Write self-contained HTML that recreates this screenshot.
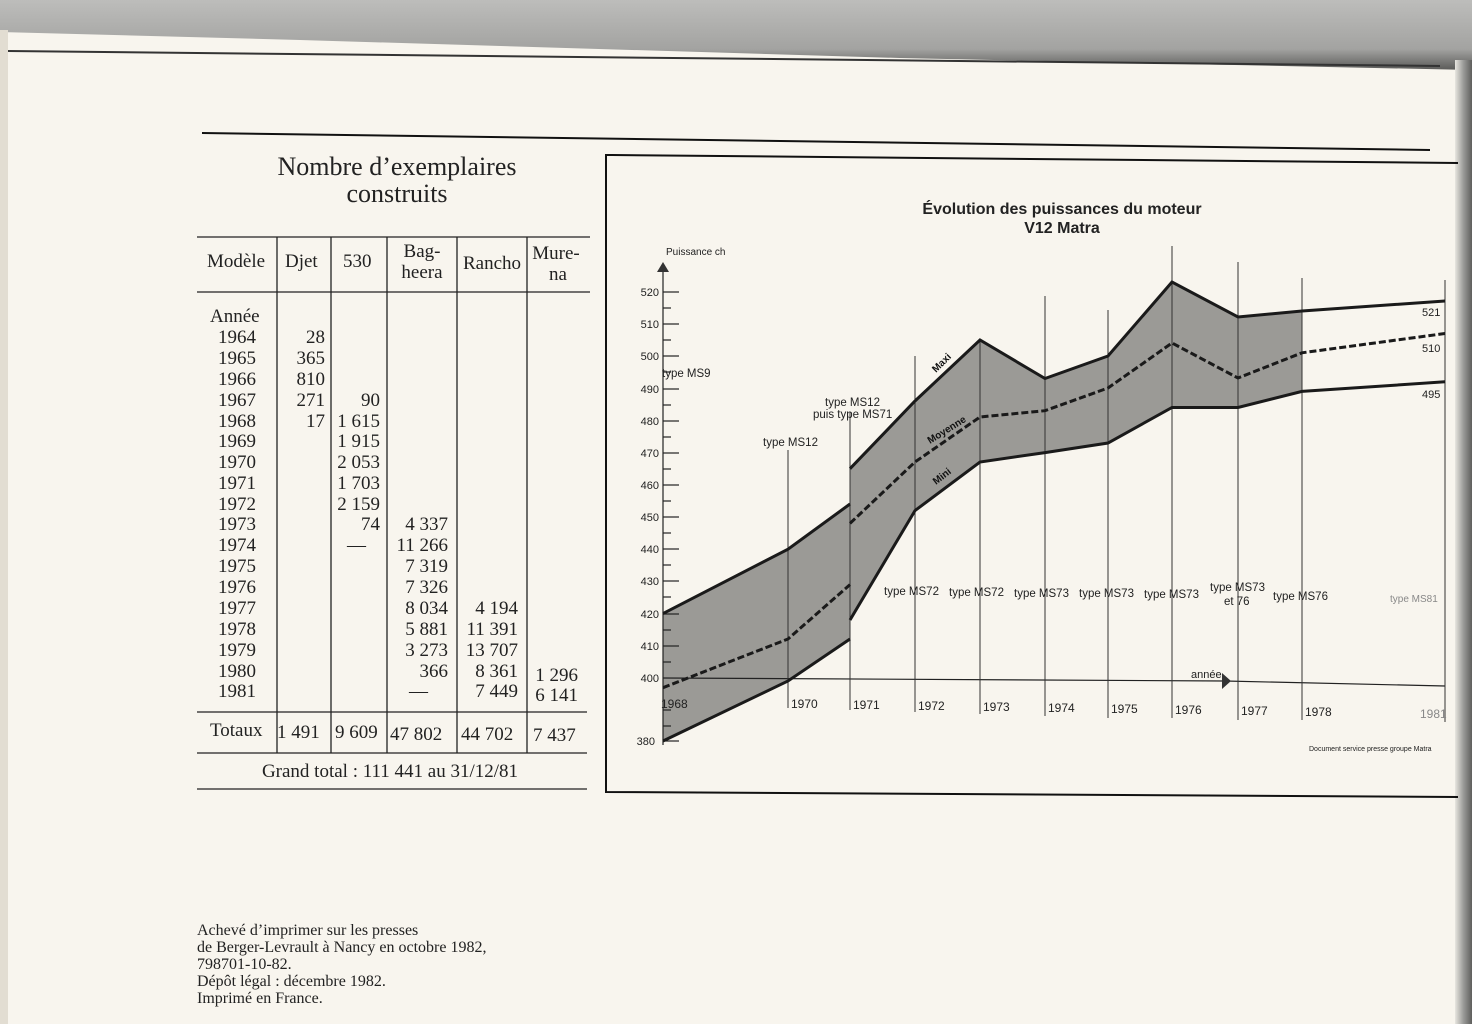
<!DOCTYPE html>
<html><head><meta charset="utf-8"><style>
html,body{margin:0;padding:0;background:#f8f5ee;}
svg{display:block}
.s{font-family:"Liberation Serif",serif;fill:#222}
.a{font-family:"Liberation Sans",sans-serif;fill:#222}
</style></head><body>
<svg width="1472" height="1024" viewBox="0 0 1472 1024" xmlns="http://www.w3.org/2000/svg">
<defs>
<linearGradient id="tg" x1="0" y1="0" x2="0" y2="1"><stop offset="0" stop-color="#bdbdbb"/><stop offset="0.7" stop-color="#a3a3a1"/><stop offset="1" stop-color="#5a5a58"/></linearGradient>
<linearGradient id="rg" x1="0" y1="0" x2="1" y2="0"><stop offset="0" stop-color="#e8e6e0"/><stop offset="0.5" stop-color="#9a9a98"/><stop offset="1" stop-color="#5e5e5c"/></linearGradient>
</defs>
<rect width="1472" height="1024" fill="#f8f5ee"/>
<polygon points="0,0 1472,0 1472,70 900,58 300,40 0,32" fill="url(#tg)"/>
<line x1="8" y1="51" x2="1440" y2="66" stroke="#333" stroke-width="2"/>
<rect x="1455" y="60" width="17" height="964" fill="url(#rg)"/>
<rect x="0" y="30" width="8" height="994" fill="#e2ddd2"/>
<line x1="202" y1="133" x2="1430" y2="150" stroke="#111" stroke-width="2"/>

<text class="s" x="397" y="175" font-size="26" text-anchor="middle">Nombre d’exemplaires</text>
<text class="s" x="397" y="202" font-size="26" text-anchor="middle">construits</text>
<g stroke="#222" stroke-width="1.3">
<line x1="197" y1="237" x2="590" y2="237"/>
<line x1="197" y1="292" x2="590" y2="292"/>
<line x1="197" y1="712" x2="587" y2="712"/>
<line x1="197" y1="753" x2="587" y2="753"/>
<line x1="197" y1="789" x2="587" y2="789"/>
<line x1="277" y1="237" x2="277" y2="753"/>
<line x1="331" y1="237" x2="331" y2="753"/>
<line x1="387" y1="237" x2="387" y2="753"/>
<line x1="457" y1="237" x2="457" y2="753"/>
<line x1="527" y1="237" x2="527" y2="753"/>
</g>
<g class="s" font-size="19">
<text x="207" y="267">Modèle</text><text x="285" y="267">Djet</text><text x="343" y="267">530</text>
<text x="422" y="257" text-anchor="middle">Bag-</text><text x="422" y="278" text-anchor="middle">heera</text>
<text x="492" y="269" text-anchor="middle">Rancho</text>
<text x="556" y="259" text-anchor="middle">Mure-</text><text x="558" y="280" text-anchor="middle">na</text>
<text x="210" y="322">Année</text>
</g>
<g class="s" font-size="19">
<g text-anchor="start">
<text x="218" y="343">1964</text><text x="218" y="364">1965</text><text x="218" y="385">1966</text><text x="218" y="406">1967</text><text x="218" y="427">1968</text><text x="218" y="447">1969</text><text x="218" y="468">1970</text><text x="218" y="489">1971</text><text x="218" y="510">1972</text><text x="218" y="530">1973</text><text x="218" y="551">1974</text><text x="218" y="572">1975</text><text x="218" y="593">1976</text><text x="218" y="614">1977</text><text x="218" y="635">1978</text><text x="218" y="656">1979</text><text x="218" y="677">1980</text><text x="218" y="697">1981</text>
</g>
<g text-anchor="end">
<text x="325" y="343">28</text><text x="325" y="364">365</text><text x="325" y="385">810</text><text x="325" y="406">271</text><text x="325" y="427">17</text>
<text x="380" y="406">90</text><text x="380" y="427">1 615</text><text x="380" y="447">1 915</text><text x="380" y="468">2 053</text><text x="380" y="489">1 703</text><text x="380" y="510">2 159</text><text x="380" y="530">74</text><text x="366" y="551">—</text>
<text x="448" y="530">4 337</text><text x="448" y="551">11 266</text><text x="448" y="572">7 319</text><text x="448" y="593">7 326</text><text x="448" y="614">8 034</text><text x="448" y="635">5 881</text><text x="448" y="656">3 273</text><text x="448" y="677">366</text><text x="428" y="697">—</text>
<text x="518" y="614">4 194</text><text x="518" y="635">11 391</text><text x="518" y="656">13 707</text><text x="518" y="677">8 361</text><text x="518" y="697">7 449</text>
<text x="578" y="681">1 296</text><text x="578" y="701">6 141</text>
</g>
<text x="210" y="736">Totaux</text>
<text x="277" y="738">1 491</text><text x="335" y="738">9 609</text><text x="390" y="740">47 802</text><text x="461" y="740">44 702</text><text x="533" y="741">7 437</text>
<text x="390" y="777" text-anchor="middle">Grand total : 111 441 au 31/12/81</text>
</g>
<g class="s" font-size="16">
<text x="197" y="935">Achevé d’imprimer sur les presses</text>
<text x="197" y="952">de Berger-Levrault à Nancy en octobre 1982,</text>
<text x="197" y="969">798701-10-82.</text>
<text x="197" y="986">Dépôt légal : décembre 1982.</text>
<text x="197" y="1003">Imprimé en France.</text>
</g>

<g stroke="#111" stroke-width="2" fill="none">
<polyline points="1458,163 612,155 606,155 606,792 1458,797"/>
</g>
<text class="a" x="1062" y="214" font-size="16" font-weight="bold" text-anchor="middle">Évolution des puissances du moteur</text>
<text class="a" x="1062" y="233" font-size="16" font-weight="bold" text-anchor="middle">V12 Matra</text>
<text class="a" x="666" y="255" font-size="10">Puissance ch</text>

<polygon fill="#9b9a96" points="663,613.6 788,549.2 850,504 850,468.7 915,401 980,340 1045,378.5 1108,356 1172,282 1238,317 1302,311 1302,391.4 1238,407.5 1172,407.5 1108,443 1045,452.6 980,462 915,510.6 850,620 850,639 788,681 663,741"/>

<g stroke="#222" stroke-width="1.2">
<line x1="663" y1="270" x2="663" y2="745"/>
<line x1="663" y1="292" x2="679" y2="292"/><line x1="663" y1="324" x2="679" y2="324"/><line x1="663" y1="356" x2="679" y2="356"/><line x1="663" y1="389" x2="679" y2="389"/><line x1="663" y1="421" x2="679" y2="421"/><line x1="663" y1="453" x2="679" y2="453"/><line x1="663" y1="485" x2="679" y2="485"/><line x1="663" y1="517" x2="679" y2="517"/><line x1="663" y1="549" x2="679" y2="549"/><line x1="663" y1="581" x2="679" y2="581"/><line x1="663" y1="614" x2="679" y2="614"/><line x1="663" y1="646" x2="679" y2="646"/><line x1="663" y1="741" x2="679" y2="741"/>
<line x1="663" y1="308" x2="671" y2="308"/><line x1="663" y1="340" x2="671" y2="340"/><line x1="663" y1="372" x2="671" y2="372"/><line x1="663" y1="405" x2="671" y2="405"/><line x1="663" y1="437" x2="671" y2="437"/><line x1="663" y1="469" x2="671" y2="469"/><line x1="663" y1="501" x2="671" y2="501"/><line x1="663" y1="533" x2="671" y2="533"/><line x1="663" y1="565" x2="671" y2="565"/><line x1="663" y1="597" x2="671" y2="597"/><line x1="663" y1="630" x2="671" y2="630"/><line x1="663" y1="662" x2="671" y2="662"/><line x1="663" y1="710" x2="671" y2="710"/><line x1="663" y1="726" x2="671" y2="726"/>
<line x1="663" y1="678" x2="1225" y2="681"/>
<line x1="1225" y1="681" x2="1445" y2="686"/>
</g>
<polygon points="657,272 669,272 663,262" fill="#333"/>
<polygon points="1222,673 1222,689 1231,681" fill="#333"/>
<g class="a" font-size="11" text-anchor="end">
<text x="659" y="296">520</text><text x="659" y="328">510</text><text x="659" y="360">500</text><text x="659" y="393">490</text><text x="659" y="425">480</text><text x="659" y="457">470</text><text x="659" y="489">460</text><text x="659" y="521">450</text><text x="659" y="553">440</text><text x="659" y="585">430</text><text x="659" y="618">420</text><text x="659" y="650">410</text><text x="659" y="682">400</text><text x="655" y="745">380</text>
</g>
<text class="a" x="1191" y="678" font-size="11">année</text>

<g stroke="#333" stroke-width="1">
<line x1="788" y1="450" x2="788" y2="708"/><line x1="850" y1="412" x2="850" y2="710"/><line x1="915" y1="356" x2="915" y2="712"/><line x1="980" y1="340" x2="980" y2="714"/><line x1="1045" y1="296" x2="1045" y2="716"/><line x1="1108" y1="310" x2="1108" y2="718"/><line x1="1172" y1="246" x2="1172" y2="718"/><line x1="1238" y1="262" x2="1238" y2="720"/><line x1="1302" y1="278" x2="1302" y2="720"/><line x1="1445" y1="280" x2="1445" y2="722"/>
</g>
<g class="a" font-size="12">
<text x="661" y="708">1968</text><text x="791" y="708">1970</text><text x="853" y="709">1971</text><text x="918" y="710">1972</text><text x="983" y="711">1973</text><text x="1048" y="712">1974</text><text x="1111" y="713">1975</text><text x="1175" y="714">1976</text><text x="1241" y="715">1977</text><text x="1305" y="716">1978</text><text x="1420" y="718" fill="#888">1981</text>
</g>

<g fill="none" stroke="#1a1a1a" stroke-width="3">
<polyline points="663,613.6 788,549.2 850,504"/>
<polyline points="850,468.7 915,401 980,340 1045,378.5 1108,356 1172,282 1238,317 1302,311 1445,301"/>
<polyline points="663,741 788,681 850,639"/>
<polyline points="850,620 915,510.6 980,462 1045,452.6 1108,443 1172,407.5 1238,407.5 1302,391.4 1445,381.8"/>
<polyline stroke-dasharray="7,3" points="663,687.7 788,639 850,584.6"/>
<polyline stroke-dasharray="7,3" points="850,523.4 915,462 980,417 1045,410.7 1108,388 1172,343 1238,378 1302,352.8 1445,333.5"/>
</g>
<g class="a" font-size="10" font-weight="bold">
<text transform="translate(936,373) rotate(-45)" fill="#111">Maxi</text>
<text transform="translate(930,444) rotate(-32)" fill="#111">Moyenne</text>
<text transform="translate(936,485) rotate(-38)" fill="#111">Mini</text>
</g>
<g class="a" font-size="11" fill="#888">
<text x="1422" y="316">521</text><text x="1422" y="352">510</text><text x="1422" y="398">495</text>
</g>
<g class="a" font-size="11.5">
<text x="662" y="377">type MS9</text>
<text x="763" y="446">type MS12</text>
<text x="825" y="406">type MS12</text>
<text x="813" y="418">puis type MS71</text>
<text x="884" y="595">type MS72</text><text x="949" y="596">type MS72</text><text x="1014" y="597">type MS73</text><text x="1079" y="597">type MS73</text><text x="1144" y="598">type MS73</text>
<text x="1210" y="591">type MS73</text><text x="1224" y="605">et 76</text>
<text x="1273" y="600">type MS76</text>
<text x="1390" y="602" fill="#888" font-size="10">type MS81</text>
</g>
<text class="a" x="1309" y="751" font-size="7">Document service presse groupe Matra</text>
</svg>
</body></html>
